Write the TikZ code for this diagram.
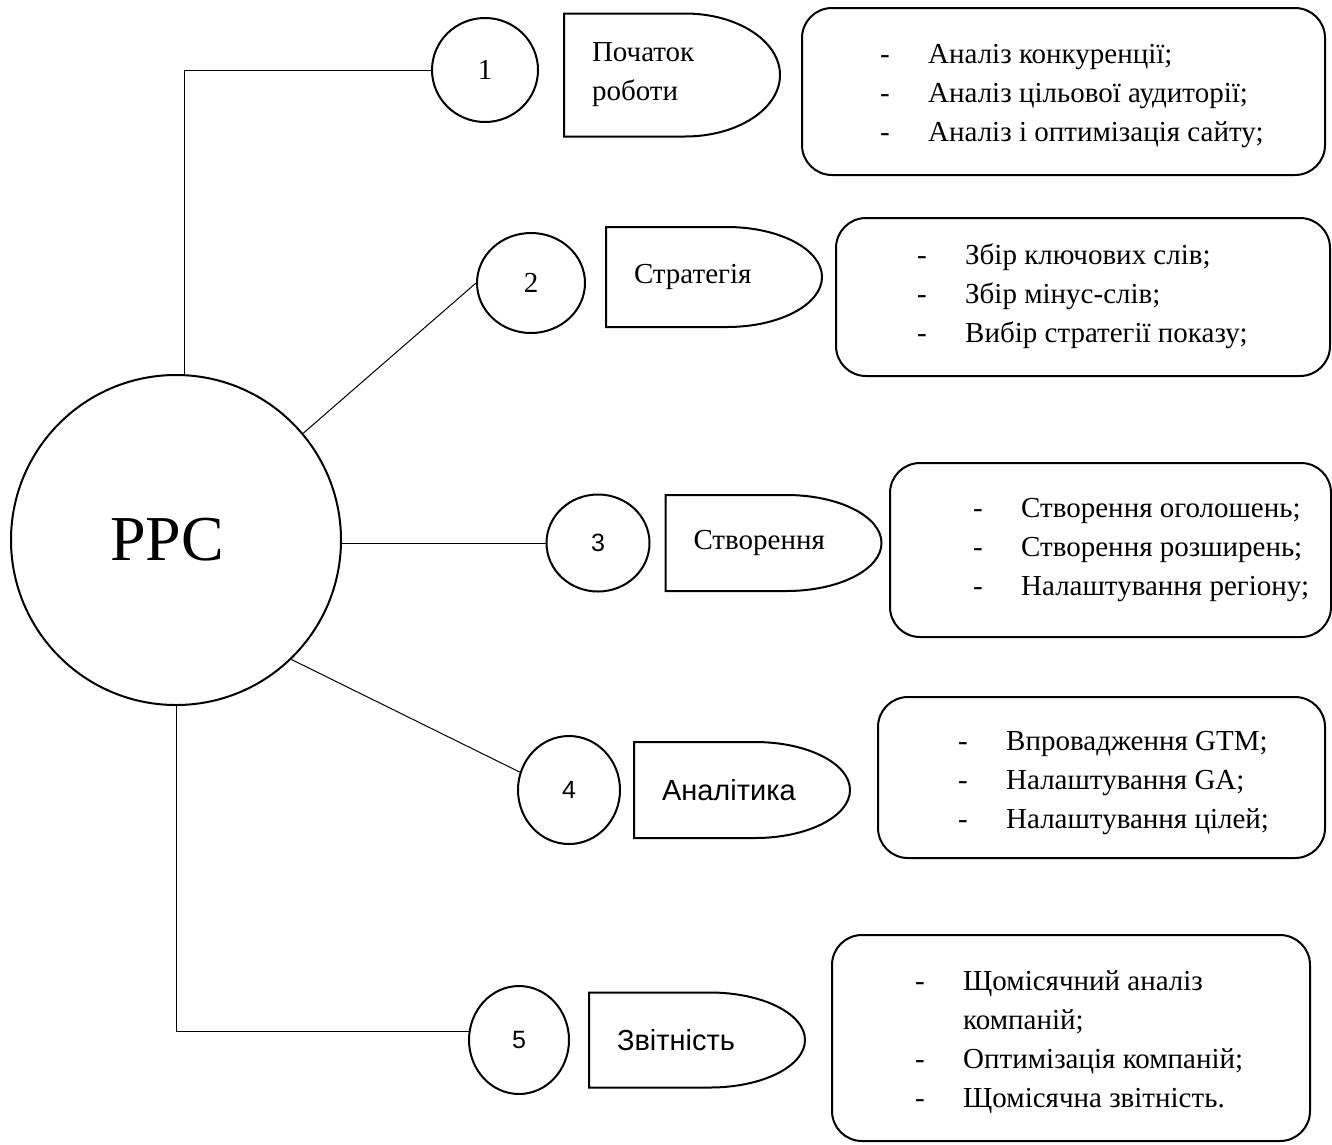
\documentclass[tikz,border=0pt]{standalone}
\usepackage{fontspec}
\setmainfont{Liberation Serif}
\setsansfont{Liberation Sans}
\usetikzlibrary{positioning, shapes.geometric, calc}

\newcommand{\dashitem}{\makebox[48pt][l]{-}}

\begin{document}
\begin{tikzpicture}[x=1pt, y=-1pt,
  hub/.style={circle, draw, line width=2pt, minimum size=330pt, inner sep=0pt, font=\fontsize{64}{70}\selectfont},
  num/.style={ellipse, draw, line width=2pt, inner sep=0pt, font=\fontsize{29}{35}\selectfont},
  numsf/.style={num, font=\sffamily\fontsize{25}{30}\selectfont},
  stage/.style={inner xsep=28pt, inner ysep=0pt, outer sep=0pt, text width=160pt, align=left, font=\fontsize{29}{39}\selectfont},
  stagesf/.style={stage, font=\sffamily\fontsize{29}{39}\selectfont},
  card/.style={draw, line width=2pt, rounded corners=30pt},
  items/.style={align=left, inner sep=0pt, font=\fontsize{29}{39}\selectfont},
  link/.style={line width=1pt}]
\useasboundingbox (0,0) rectangle (1332,1144);

% centre
\node[hub] (ppc) at (176,540) {\hspace*{-18pt}PPC};

% numbered steps
\node[num, minimum width=106pt, minimum height=104pt] (c1) at (485,70) {1};
\node[num, minimum width=108pt, minimum height=100pt] (c2) at (531,283) {2};
\node[numsf, minimum width=103pt, minimum height=97pt] (c3) at (598,543) {3};
\node[numsf, minimum width=102pt, minimum height=108pt] (c4) at (569,790) {4};
\node[numsf, minimum width=100pt, minimum height=108pt] (c5) at (519,1040) {5};

% stage names
\node[stage, minimum height=123pt, right=25pt of c1, yshift=-5pt] (d1) {Початок\\роботи};
\node[stage, minimum height=100pt, right=20pt of c2, yshift=6pt] (d2) {Стратегія};
\node[stage, minimum height=96pt, right=15pt of c3] (d3) {Створення};
\node[stagesf, minimum height=96pt, right=13pt of c4] (d4) {Аналітика};
\node[stagesf, minimum height=95pt, right=19pt of c5] (d5) {Звітність};
\foreach \d in {d1,d2,d3,d4,d5}
  \draw[line width=2pt] (\d.north west) -- ([xshift=-95pt]\d.north east)
    .. controls ([xshift=-42.6pt]\d.north east) and ($(\d.east)!0.552!(\d.north east)$) .. (\d.east)
    .. controls ($(\d.east)!0.552!(\d.south east)$) and ([xshift=-42.6pt]\d.south east) .. ([xshift=-95pt]\d.south east)
    -- (\d.south west) -- cycle;

% task lists
\node[card, minimum width=523pt, minimum height=167pt] (b1) at (1063.5,91.5) {};
\node[card, minimum width=494pt, minimum height=158pt] (b2) at (1083,297) {};
\node[card, minimum width=441pt, minimum height=174pt] (b3) at (1110.5,550) {};
\node[card, minimum width=447pt, minimum height=161pt] (b4) at (1101.5,777.5) {};
\node[card, minimum width=478pt, minimum height=206pt] (b5) at (1071,1038) {};

\node[items, anchor=west] (t1) at (880,96) {\dashitem Аналіз конкуренції;\\
  \dashitem Аналіз цільової аудиторії;\\ \dashitem Аналіз і оптимізація сайту;};
\node[items, anchor=west] (t2) at (917,296) {\dashitem Збір ключових слів;\\
  \dashitem Збір мінус-слів;\\ \dashitem Вибір стратегії показу;};
\node[items, anchor=west] (t3) at (973,550) {\dashitem Створення оголошень;\\
  \dashitem Створення розширень;\\ \dashitem Налаштування регіону;};
\node[items, anchor=west] (t4) at (958,783) {\dashitem Впровадження GTM;\\
  \dashitem Налаштування GA;\\ \dashitem Налаштування цілей;};
\node[items, anchor=west] (t5) at (915,1042) {\dashitem Щомісячний аналіз\\
  \hspace*{48pt}компаній;\\ \dashitem Оптимізація компаній;\\ \dashitem Щомісячна звітність.};

% connections
\draw[link] (ppc.87) |- (c1.west);
\draw[link] (ppc.40) -- (c2.west);
\draw[link] (ppc.east |- c3.west) -- (c3.west);
\draw[link] (ppc.-46) -- (c4.160);
\draw[link] (ppc.south) |- (c5.170);
\end{tikzpicture}
\end{document}
